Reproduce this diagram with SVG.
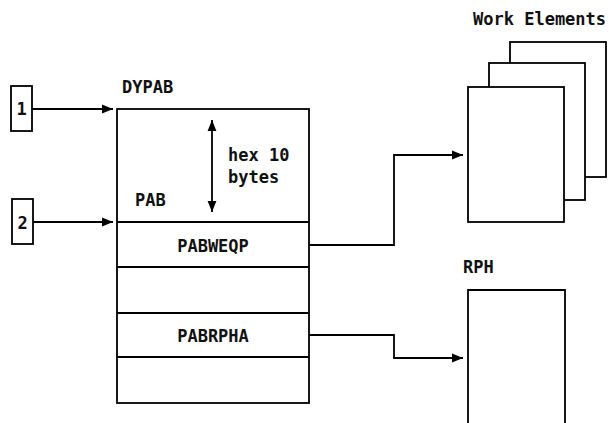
<svg xmlns="http://www.w3.org/2000/svg" width="609" height="423" viewBox="0 0 609 423">
<style>
.s{fill:#fff;stroke:#000;stroke-width:1.8}
.l{fill:none;stroke:#000;stroke-width:1.8}
text{font-family:"DejaVu Sans Mono","Liberation Mono",monospace;font-size:17px;font-weight:bold;fill:#111}
</style>
<defs>
<marker id="a" viewBox="0 0 10 10" refX="10" refY="5" markerWidth="11" markerHeight="11" markerUnits="userSpaceOnUse" orient="auto-start-reverse">
<path d="M0,1 L10,5 L0,9 Z" fill="#000"/>
</marker>
</defs>
<rect width="609" height="423" fill="#fff"/>
<g id="n1"><rect class="s" x="11" y="86" width="21" height="45"/><text x="21.5" y="115" text-anchor="middle">1</text></g>
<g id="n2"><rect class="s" x="12" y="199" width="21" height="45"/><text x="22.5" y="229" text-anchor="middle">2</text></g>
<g id="dypab">
<text x="122" y="93">DYPAB</text>
<rect class="s" x="117" y="109" width="192" height="294"/>
<line class="l" x1="117" y1="222" x2="309" y2="222"/>
<line class="l" x1="117" y1="267" x2="309" y2="267"/>
<line class="l" x1="117" y1="313" x2="309" y2="313"/>
<line class="l" x1="117" y1="357" x2="309" y2="357"/>
<text x="135" y="206">PAB</text>
<text x="228" y="161">hex 10</text>
<text x="228" y="183">bytes</text>
<line class="l" x1="212" y1="120" x2="212" y2="212" marker-start="url(#a)" marker-end="url(#a)"/>
<text x="213" y="252" text-anchor="middle">PABWEQP</text>
<text x="213" y="342" text-anchor="middle">PABRPHA</text>
</g>
<g id="work">
<text x="473" y="25">Work Elements</text>
<rect class="s" x="510" y="42" width="96" height="135"/>
<rect class="s" x="489" y="63" width="96" height="137"/>
<rect class="s" x="468" y="87" width="96" height="135"/>
</g>
<g id="rph">
<text x="463" y="273">RPH</text>
<path class="l" d="M468,423 V290 H565 V423"/>
</g>
<g id="connectors">
<line class="l" x1="32" y1="109" x2="113" y2="109" marker-end="url(#a)"/>
<line class="l" x1="33" y1="222" x2="113" y2="222" marker-end="url(#a)"/>
<path class="l" d="M309,245 H394 V155 H463" marker-end="url(#a)"/>
<path class="l" d="M309,335 H394 V358 H463" marker-end="url(#a)"/>
</g>
</svg>
